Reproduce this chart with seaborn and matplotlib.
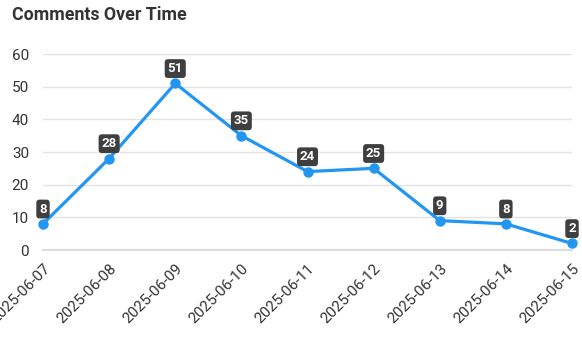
import matplotlib
matplotlib.use("Agg")
import matplotlib.pyplot as plt
import seaborn as sns
import pandas as pd

dates = ["2025-06-07", "2025-06-08", "2025-06-09", "2025-06-10", "2025-06-11",
         "2025-06-12", "2025-06-13", "2025-06-14", "2025-06-15"]
comments = [8, 28, 51, 35, 24, 25, 9, 8, 2]
y_ticks = [0, 10, 20, 30, 40, 50, 60]

sns.set_theme(style="white")
plt.rcParams["font.family"] = ["Roboto", "DejaVu Sans"]

df = pd.DataFrame({"date": dates, "comments": comments})
df["pos"] = range(len(df))

fig = plt.figure(figsize=(5.82, 3.5), dpi=100)
ax = fig.add_axes([43 / 582, 1 - 250 / 350, (572 - 43) / 582, (250 - 54) / 350])

line_color = "#2196F3"
sns.lineplot(data=df, x="pos", y="comments", ax=ax, color=line_color,
             linewidth=2.3, marker="o", markersize=7.5, markeredgewidth=0,
             clip_on=False, zorder=3)

ax.set_xlim(0, len(dates) - 1)
ax.set_ylim(0, 60)
ax.set_yticks(y_ticks)
ax.set_xticks(df["pos"])
ax.set_xticklabels(dates, rotation=45, ha="right", rotation_mode="anchor")
ax.tick_params(axis="x", length=5, width=1, color="#dddddd", pad=3,
               labelsize=11, labelcolor="#333333")
ax.tick_params(axis="y", length=0, pad=10, labelsize=11, labelcolor="#333333")
for lbl in ax.get_yticklabels():
    lbl.set_horizontalalignment("right")

ax.grid(axis="y", color="#e3e3e3", linewidth=1)
ax.set_axisbelow(True)
for side in ["top", "right", "left"]:
    ax.spines[side].set_visible(False)
ax.spines["bottom"].set_color("#dddddd")
ax.spines["bottom"].set_linewidth(1.5)
ax.set_xlabel("")
ax.set_ylabel("")

for x, v in zip(df["pos"], df["comments"]):
    ax.annotate(str(v), (x, v), xytext=(0, 6), textcoords="offset points",
                ha="center", va="bottom", color="white", fontsize=9.5,
                fontweight="bold", zorder=5, annotation_clip=False,
                bbox=dict(boxstyle="round,pad=0.22,rounding_size=0.25",
                          fc="#3f3f3f", ec="none"))

fig.text(12 / 582, 1 - 15 / 350, "Comments Over Time", fontsize=12.8,
         fontweight="bold", color="#333333", ha="left", va="center")

fig.savefig("out.png", dpi=100)
